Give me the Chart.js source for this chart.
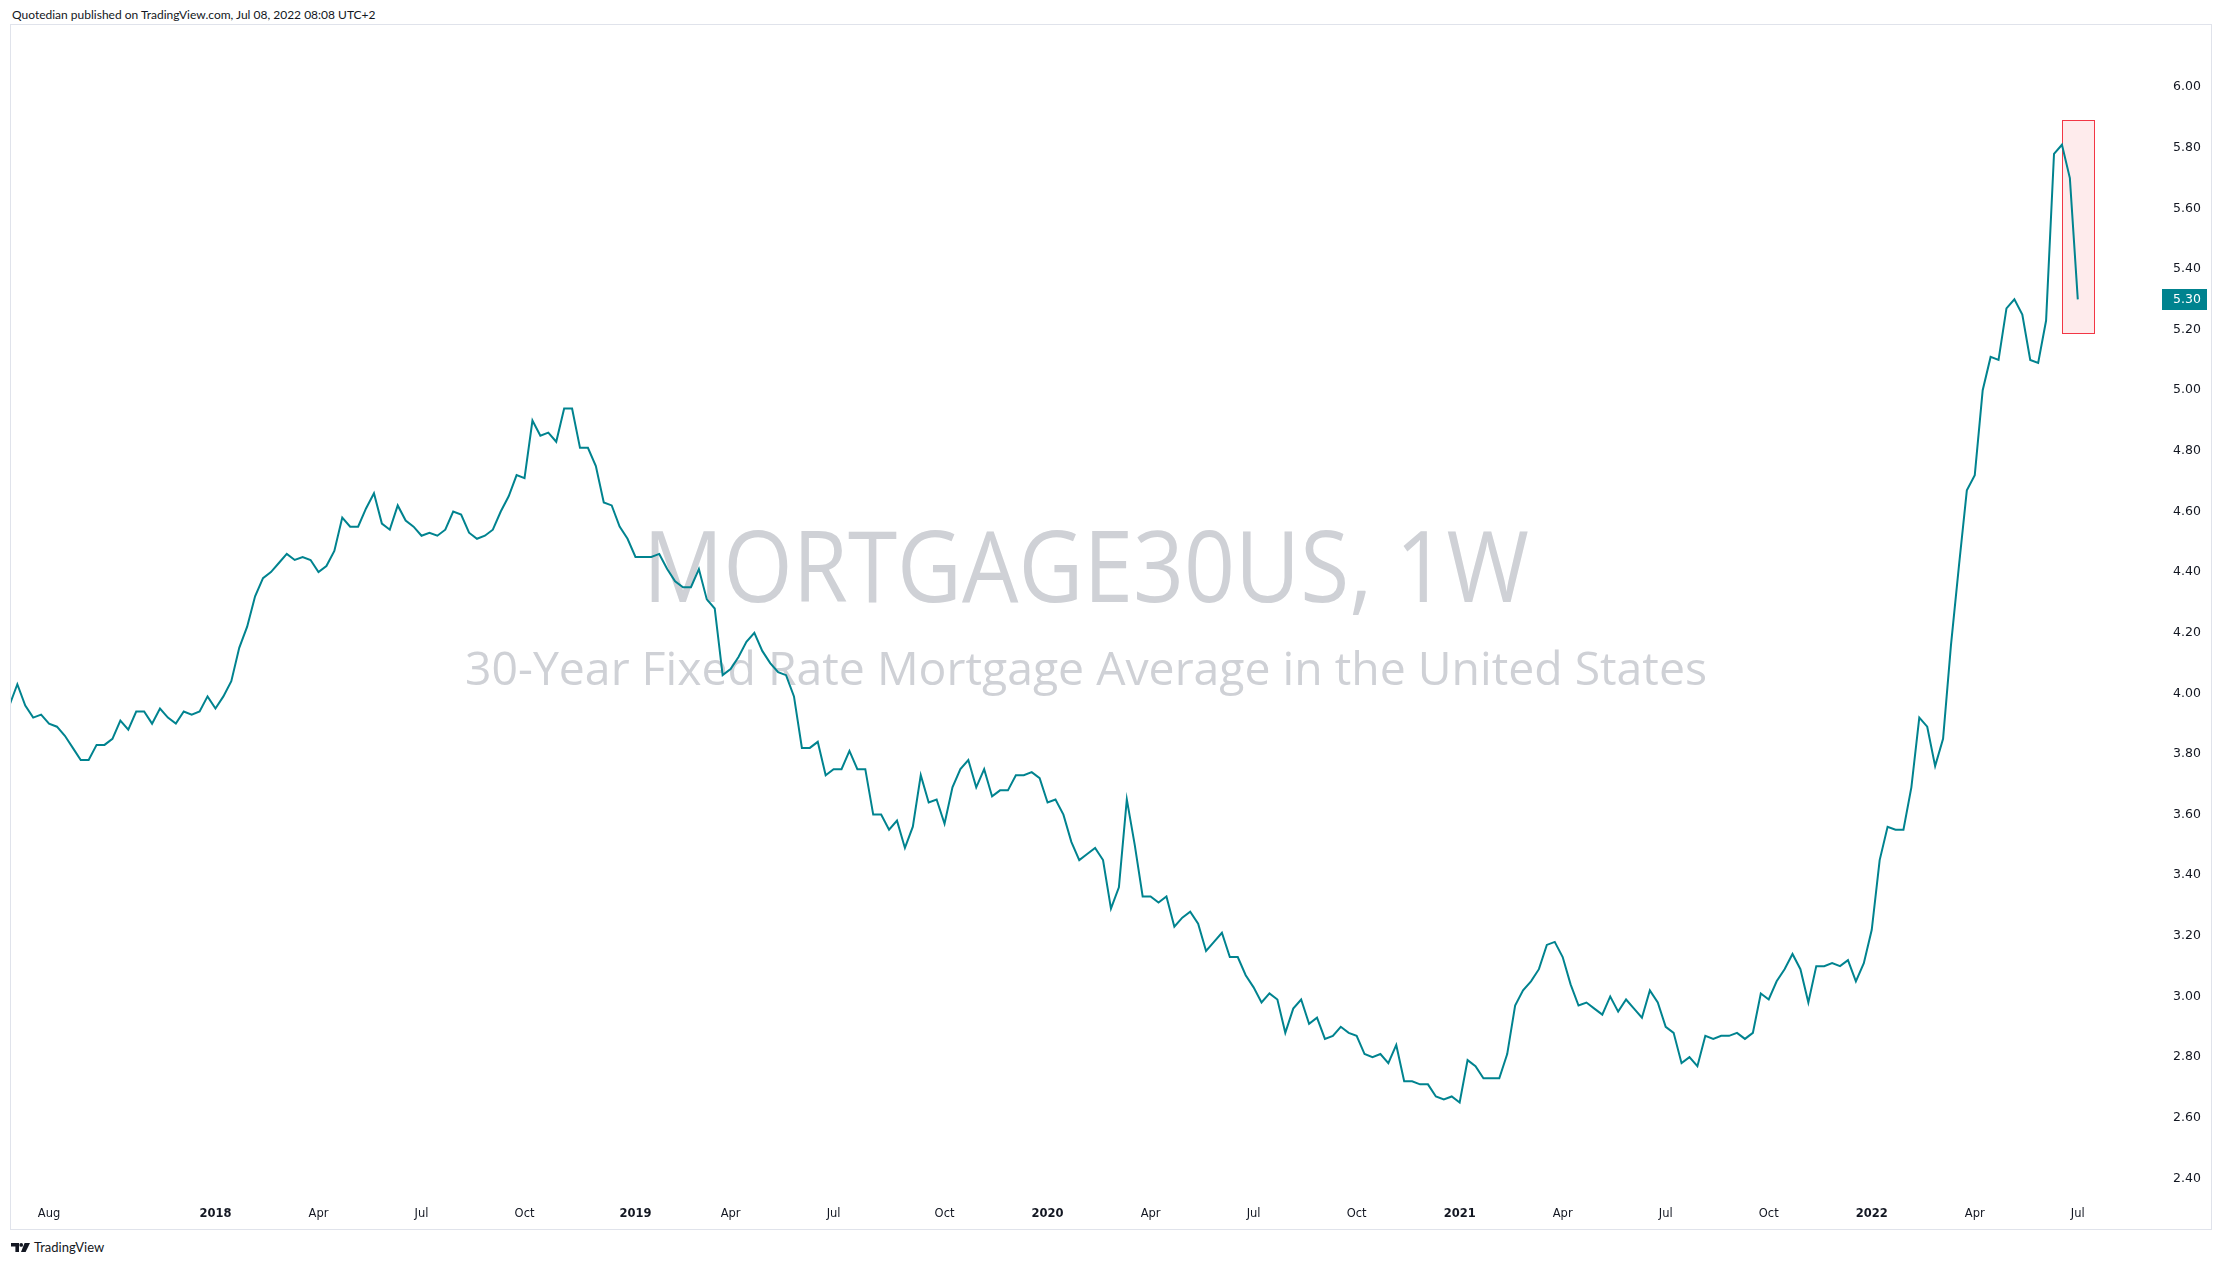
<!DOCTYPE html>
<html>
<head>
<meta charset="utf-8">
<title>MORTGAGE30US, 1W</title>
<script src="https://cdn.jsdelivr.net/npm/chart.js@4.4.1/dist/chart.umd.min.js"></script>
<style>
  html, body { margin: 0; background: #fff; }
  body { width: 2222px; height: 1266px; position: relative; overflow: hidden; color: #131722; }
  #header { position: absolute; left: 12px; top: 7px; font: 12px Lato, sans-serif; line-height: 16px; white-space: nowrap; }
  #frame { position: absolute; left: 10px; top: 24px; width: 2200px; height: 1204px; border: 1px solid #e0e3eb; }
  #footer { position: absolute; left: 11px; top: 1239px; height: 16px; display: flex; align-items: center; font: 13px Lato, sans-serif; }
  #footer svg { margin-right: 3px; }
</style>
</head>
<body>
<div id="header">Quotedian published on TradingView.com, Jul 08, 2022 08:08 UTC+2</div>
<div id="frame"><canvas id="grafico" width="2200" height="1204"></canvas></div>
<div id="footer">
  <svg width="20" height="9" viewBox="0 0 20 9"><path d="M0 0h8v9h-3.6v-5.4h-4.4z" fill="#131722"/><circle cx="10.2" cy="1.9" r="1.9" fill="#131722"/><path d="M13.6 0h5.4l-4.4 9h-4.6z" fill="#131722"/></svg>
  <span>TradingView</span>
</div>
<script>
// weekly 30y fixed rate, one value per week, first week = Jul 6 2017, last = Jul 7 2022
const taxas2017 = [3.96, 4.03, 3.96, 3.92, 3.93, 3.90, 3.89, 3.86, 3.82, 3.78, 3.78, 3.83, 3.83,
  3.85, 3.91, 3.88, 3.94, 3.94, 3.90, 3.95, 3.92, 3.90, 3.94, 3.93, 3.94, 3.99];
const taxas2018 = [3.95, 3.99, 4.04, 4.15, 4.22, 4.32, 4.38, 4.40, 4.43, 4.46, 4.44, 4.45, 4.44,
  4.40, 4.42, 4.47, 4.58, 4.55, 4.55, 4.61, 4.66, 4.56, 4.54, 4.62, 4.57, 4.55, 4.52, 4.53, 4.52,
  4.54, 4.60, 4.59, 4.53, 4.51, 4.52, 4.54, 4.60, 4.65, 4.72, 4.71, 4.90, 4.85, 4.86, 4.83, 4.94,
  4.94, 4.81, 4.81, 4.75, 4.63, 4.62, 4.55];
const taxas2019 = [4.51, 4.45, 4.45, 4.45, 4.46, 4.41, 4.37, 4.35, 4.35, 4.41, 4.31, 4.28, 4.06,
  4.08, 4.12, 4.17, 4.20, 4.14, 4.10, 4.07, 4.06, 3.99, 3.82, 3.82, 3.84, 3.73, 3.75, 3.75, 3.81,
  3.75, 3.75, 3.60, 3.60, 3.55, 3.58, 3.49, 3.56, 3.73, 3.64, 3.65, 3.57, 3.69, 3.75, 3.78, 3.69,
  3.75, 3.66, 3.68, 3.68, 3.73, 3.73, 3.74];
const taxas2020 = [3.72, 3.64, 3.65, 3.60, 3.51, 3.45, 3.47, 3.49, 3.45, 3.29, 3.36, 3.65, 3.50,
  3.33, 3.33, 3.31, 3.33, 3.23, 3.26, 3.28, 3.24, 3.15, 3.18, 3.21, 3.13, 3.13, 3.07, 3.03, 2.98,
  3.01, 2.99, 2.88, 2.96, 2.99, 2.91, 2.93, 2.86, 2.87, 2.90, 2.88, 2.87, 2.81, 2.80, 2.81, 2.78,
  2.84, 2.72, 2.72, 2.71, 2.71, 2.67, 2.66, 2.67];
const taxas2021 = [2.65, 2.79, 2.77, 2.73, 2.73, 2.73, 2.81, 2.97, 3.02, 3.05, 3.09, 3.17, 3.18,
  3.13, 3.04, 2.97, 2.98, 2.96, 2.94, 3.00, 2.95, 2.99, 2.96, 2.93, 3.02, 2.98, 2.90, 2.88, 2.78,
  2.80, 2.77, 2.87, 2.86, 2.87, 2.87, 2.88, 2.86, 2.88, 3.01, 2.99, 3.05, 3.09, 3.14, 3.09, 2.98,
  3.10, 3.10, 3.11, 3.10, 3.12, 3.05, 3.11];
const taxas2022 = [3.22, 3.45, 3.56, 3.55, 3.55, 3.69, 3.92, 3.89, 3.76, 3.85, 4.16, 4.42, 4.67,
  4.72, 5.00, 5.11, 5.10, 5.27, 5.30, 5.25, 5.10, 5.09, 5.23, 5.78, 5.81, 5.70, 5.30];

const taxas = [...taxas2017, ...taxas2018, ...taxas2019, ...taxas2020, ...taxas2021, ...taxas2022];

// time axis labels, placed on the week they belong to
const semanasRotulo = [5, 26, 39, 52, 65, 79, 91, 104, 118, 131, 144, 157, 170, 183, 196, 209, 222, 235, 248, 261];
const rotulosTempo = ["Aug", "2018", "Apr", "Jul", "Oct", "2019", "Apr", "Jul", "Oct", "2020",
  "Apr", "Jul", "Oct", "2021", "Apr", "Jul", "Oct", "2022", "Apr", "Jul"];

const rotulosPreco = [2.4, 2.6, 2.8, 3.0, 3.2, 3.4, 3.6, 3.8, 4.0, 4.2, 4.4, 4.6, 4.8, 5.0, 5.2, 5.4, 5.6, 5.8, 6.0];

// highlight rectangle drawn on the chart (weeks / rate)
const caixaSemanas = [259, 263];
const caixaTaxas = [5.19, 5.89];

const titulo = "MORTGAGE30US, 1W";
const subtitulo = "30-Year Fixed Rate Mortgage Average in the United States";

const corLinha = "#00838f";

const marcaDagua = {
  id: "marcaDagua",
  beforeDatasetsDraw(chart) {
    const { ctx, chartArea: ca } = chart;
    const cx = (ca.left + ca.right) / 2;
    const cy = (ca.top + ca.bottom) / 2;
    ctx.save();
    ctx.fillStyle = "#cfd1d6";
    ctx.textAlign = "center";
    ctx.textBaseline = "alphabetic";
    const escrever = (texto, tamanho, largura, y) => {
      ctx.font = tamanho + 'px "Open Sans"';
      const w = ctx.measureText(texto).width;
      ctx.save();
      ctx.translate(cx, y);
      ctx.scale(largura / w, 1);
      ctx.fillText(texto, 0, 0);
      ctx.restore();
    };
    escrever(titulo, 98, 886, cy - 8);
    escrever(subtitulo, 46, 1242, cy + 75);
    ctx.restore();
  }
};

const caixaDestaque = {
  id: "caixaDestaque",
  beforeDatasetsDraw(chart) {
    const { ctx, scales: { x, y } } = chart;
    const x0 = Math.round(x.getPixelForValue(caixaSemanas[0])) + 0.5;
    const x1 = Math.round(x.getPixelForValue(caixaSemanas[1])) + 0.5;
    const y0 = Math.round(y.getPixelForValue(caixaTaxas[1])) + 0.5;
    const y1 = Math.round(y.getPixelForValue(caixaTaxas[0])) + 0.5;
    ctx.save();
    ctx.fillStyle = "rgba(242, 54, 69, 0.1)";
    ctx.fillRect(x0, y0, x1 - x0, y1 - y0);
    ctx.strokeStyle = "#f23645";
    ctx.lineWidth = 1;
    ctx.strokeRect(x0, y0, x1 - x0, y1 - y0);
    ctx.restore();
  }
};

const ultimoValor = {
  id: "ultimoValor",
  afterDraw(chart) {
    const { ctx, scales: { y } } = chart;
    const valor = taxas[taxas.length - 1];
    const py = Math.round(y.getPixelForValue(valor));
    ctx.save();
    ctx.fillStyle = corLinha;
    ctx.fillRect(y.left + 1, py - 10, 45, 21);
    ctx.fillStyle = "#ffffff";
    ctx.font = '12.5px "DejaVu Sans"';
    ctx.textAlign = "left";
    ctx.textBaseline = "middle";
    ctx.fillText(valor.toFixed(2), y.left + 12, py + 1);
    ctx.restore();
  }
};

const grafico = new Chart(document.getElementById("grafico"), {
  type: "line",
  data: {
    datasets: [
      {
        label: "MORTGAGE30US",
        data: taxas.map((v, i) => ({ x: i, y: v })),
        borderColor: corLinha,
        borderWidth: 2,
        pointRadius: 0,
        tension: 0,
        fill: false,
      },
    ],
  },
  options: {
    responsive: false,
    animation: false,
    devicePixelRatio: 1,
    layout: { padding: 0 },
    plugins: { legend: { display: false }, tooltip: { enabled: false } },
    scales: {
      x: {
        type: "linear",
        min: 0.2,
        max: 271.5,
        grid: { display: false, drawTicks: false },
        border: { display: false },
        ticks: {
          autoSkip: false,
          maxRotation: 0,
          padding: 12,
          color: "#131722",
          font: (c) => ({
            family: "DejaVu Sans",
            size: 11.5,
            weight: /^\d{4}$/.test(rotulosTempo[c.index]) ? "bold" : "normal",
          }),
          callback: (valor) => rotulosTempo[semanasRotulo.indexOf(valor)],
        },
        afterBuildTicks: (s) => { s.ticks = semanasRotulo.map((v) => ({ value: v })); },
        afterFit: (s) => { s.height = 34; s.paddingLeft = 0; s.paddingRight = 0; },
      },
      y: {
        type: "linear",
        position: "right",
        min: 2.345,
        max: 6.205,
        grid: { display: false, drawTicks: false },
        border: { display: false },
        ticks: {
          padding: 12,
          color: "#131722",
          font: { family: "DejaVu Sans", size: 12.5 },
          callback: (valor) => valor.toFixed(2),
        },
        afterBuildTicks: (s) => { s.ticks = rotulosPreco.map((v) => ({ value: v })); },
        afterFit: (s) => { s.width = 50; s.paddingTop = 0; s.paddingBottom = 0; },
      },
    },
  },
  plugins: [marcaDagua, caixaDestaque, ultimoValor],
});
</script>
</body>
</html>
